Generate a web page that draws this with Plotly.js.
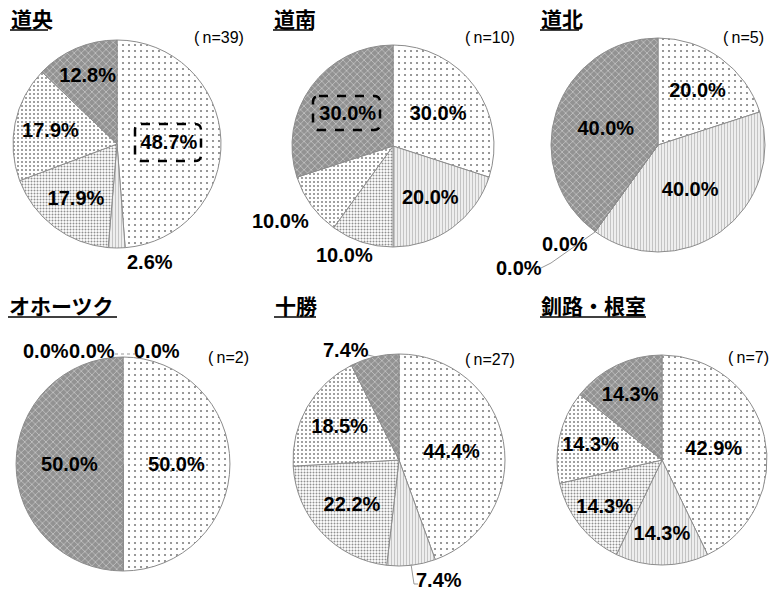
<!DOCTYPE html>
<html>
<head>
<meta charset="utf-8">
<script src="https://cdn.plot.ly/plotly-3.0.1.min.js"></script>
<style>
  html, body { margin: 0; padding: 0; background: #fff; }
  #chart { width: 779px; height: 594px; }
</style>
</head>
<body>
<div id="chart"></div>
<script>
// Regions (one pie each) and their sample sizes
const regions = ['道央', '道南', '道北', 'オホーツク', '十勝', '釧路・根室'];
const sampleSizes = [39, 10, 5, 2, 27, 7];

// Answer categories, clockwise from 12 o'clock
const sliceKeys = ['s1', 's2', 's3', 's4', 's5'];

// Shares (%) per region, in sliceKeys order
const doo       = [48.7, 2.6, 17.9, 17.9, 12.8];
const donan     = [30.0, 20.0, 10.0, 10.0, 30.0];
const dohoku    = [20.0, 40.0, 0.0, 0.0, 40.0];
const okhotsk   = [50.0, 0.0, 0.0, 0.0, 50.0];
const tokachi   = [44.4, 7.4, 22.2, 18.5, 7.4];
const kushiro   = [42.9, 14.3, 14.3, 14.3, 14.3];
const shares = [doo, donan, dohoku, okhotsk, tokachi, kushiro];

// ---- layout ----
const W = 779, H = 594;
// pie centre (px) and radius (px)
const pieGeom = [
  [117, 144, 104], [393, 146, 101], [658, 145, 107],
  [123, 464, 107], [399, 460, 106], [662, 460, 105]
];
// labels of small / empty slices, set beside the pie:
// [region index, slice index, label centre x, label centre y] (px)
const sideLabels = [
  [0, 1, 150, 262],
  [1, 2, 344, 255],
  [1, 3, 280, 221],
  [2, 2, 565, 244],
  [2, 3, 519, 268],
  [3, 1, 157, 351],
  [3, 2, 92, 351],
  [3, 3, 46, 351],
  [4, 1, 439, 580],
  [4, 4, 346, 350]
];
// leader lines for some side labels (px polylines)
const leaders = [
  {pts: [[541, 268], [551, 263], [595, 232]], dash: 'solid'},
  {pts: [[115, 354], [135, 354]], dash: 'dot'},
  {pts: [[368, 355], [376, 357]], dash: 'solid'},
  {pts: [[411, 564], [414, 584], [418, 584]], dash: 'solid'}
];
// title / sample-size positions (px)
const titlePos = [[9, 18], [272, 18], [539, 18], [7, 305], [273, 305], [539, 305]];
const nPos = [[246, 37], [517, 37], [766, 37], [251, 357], [517, 359], [771, 357]];

// slice fills
const fills = [
  {bg: '#ffffff', fg: '#000000', shape: '.', size: 6, solidity: 0.10},
  {bg: '#eeeeee', fg: '#9a9a9a', shape: '|', size: 3, solidity: 0.35},
  {bg: '#ffffff', fg: '#222222', shape: '.', size: 3, solidity: 0.35},
  {bg: '#ffffff', fg: '#111111', shape: '.', size: 4, solidity: 0.22},
  {bg: '#929292', fg: '#f4f4f4', shape: 'x', size: 5, solidity: 0.3}
];

const pctFont = {family: 'Liberation Sans, Arial, sans-serif', size: 20, color: '#000', weight: 'bold'};
const titleFont = {family: 'Noto Sans CJK JP, sans-serif', size: 21, color: '#000', weight: 'bold'};
const nFont = {family: 'Liberation Sans, Arial, sans-serif', size: 16, color: '#000'};

const isSide = (ri, si) => sideLabels.some(l => l[0] === ri && l[1] === si);

const traces = shares.map((vals, i) => {
  const [cx, cy, r] = pieGeom[i];
  return {
    type: 'pie',
    labels: sliceKeys,
    values: vals,
    sort: false,
    direction: 'clockwise',
    rotation: 0,
    domain: {
      x: [(cx - r) / W, (cx + r) / W],
      y: [1 - (cy + r) / H, 1 - (cy - r) / H]
    },
    texttemplate: vals.map((v, j) => (v > 0 && !isSide(i, j)) ? '%{value:.1f}%' : ''),
    textposition: 'inside',
    insidetextorientation: 'horizontal',
    textfont: pctFont,
    marker: {
      colors: fills.map(f => f.bg),
      line: {color: '#8c8c8c', width: 1},
      pattern: {
        shape: fills.map(f => f.shape),
        fgcolor: fills.map(f => f.fg),
        bgcolor: fills.map(f => f.bg),
        size: fills.map(f => f.size),
        solidity: fills.map(f => f.solidity),
        fillmode: 'overlay'
      }
    },
    showlegend: false,
    hoverinfo: 'label+value',
    automargin: false
  };
});

const annotations = [];
const shapes = [];
const px = v => v / W, py = v => 1 - v / H;

regions.forEach((name, i) => {
  const [tx, ty] = titlePos[i];
  annotations.push({
    xref: 'paper', yref: 'paper', x: px(tx), y: py(ty),
    xanchor: 'left', yanchor: 'middle', showarrow: false,
    text: '<b>' + name + '</b>',
    font: titleFont
  });
  const [nx, ny] = nPos[i];
  annotations.push({
    xref: 'paper', yref: 'paper', x: px(nx), y: py(ny),
    xanchor: 'right', yanchor: 'middle', showarrow: false,
    text: '(\u2009n=' + sampleSizes[i] + ')',
    font: nFont
  });
});

// title underlines (px)
const underline = [[10, 48], [273, 313], [540, 579], [8, 117], [274, 316], [540, 646]];
underline.forEach((u, i) => {
  const y = titlePos[i][1] + 12;
  shapes.push({
    type: 'line', xref: 'paper', yref: 'paper',
    x0: px(u[0]), x1: px(u[1]), y0: py(y), y1: py(y),
    line: {color: '#000', width: 1.5}
  });
});

// side labels
sideLabels.forEach(([ri, si, lx, ly]) => {
  annotations.push({
    xref: 'paper', yref: 'paper', x: px(lx), y: py(ly),
    xanchor: 'center', yanchor: 'middle', showarrow: false,
    text: shares[ri][si].toFixed(1) + '%',
    font: pctFont
  });
});
leaders.forEach(l => {
  const d = l.pts.map((p, k) => (k ? 'L' : 'M') + px(p[0]).toFixed(5) + ',' + py(p[1]).toFixed(5)).join(' ');
  shapes.push({
    type: 'path', xref: 'paper', yref: 'paper', path: d,
    line: {color: '#999', width: 1, dash: l.dash}
  });
});

// dashed call-out boxes around the leading shares
function roundBox(x0, y0, x1, y1, rr) {
  const a = v => px(v).toFixed(5), b = v => py(v).toFixed(5);
  return 'M' + a(x0 + rr) + ',' + b(y0) +
    ' L' + a(x1 - rr) + ',' + b(y0) +
    ' Q' + a(x1) + ',' + b(y0) + ' ' + a(x1) + ',' + b(y0 + rr) +
    ' L' + a(x1) + ',' + b(y1 - rr) +
    ' Q' + a(x1) + ',' + b(y1) + ' ' + a(x1 - rr) + ',' + b(y1) +
    ' L' + a(x0 + rr) + ',' + b(y1) +
    ' Q' + a(x0) + ',' + b(y1) + ' ' + a(x0) + ',' + b(y1 - rr) +
    ' L' + a(x0) + ',' + b(y0 + rr) +
    ' Q' + a(x0) + ',' + b(y0) + ' ' + a(x0 + rr) + ',' + b(y0) + ' Z';
}
[[135, 124, 201, 161], [313, 96, 380, 130]].forEach(bx => {
  shapes.push({
    type: 'path', xref: 'paper', yref: 'paper',
    path: roundBox(bx[0], bx[1], bx[2], bx[3], 6),
    line: {color: '#000', width: 2.5, dash: 'dash'},
    layer: 'above'
  });
});

const layout = {
  width: W, height: H,
  margin: {l: 0, r: 0, t: 0, b: 0},
  paper_bgcolor: '#fff',
  uniformtext: {minsize: 20, mode: 'show'},
  annotations: annotations,
  shapes: shapes
};

Plotly.newPlot('chart', traces, layout, {staticPlot: true});
</script>
</body>
</html>
